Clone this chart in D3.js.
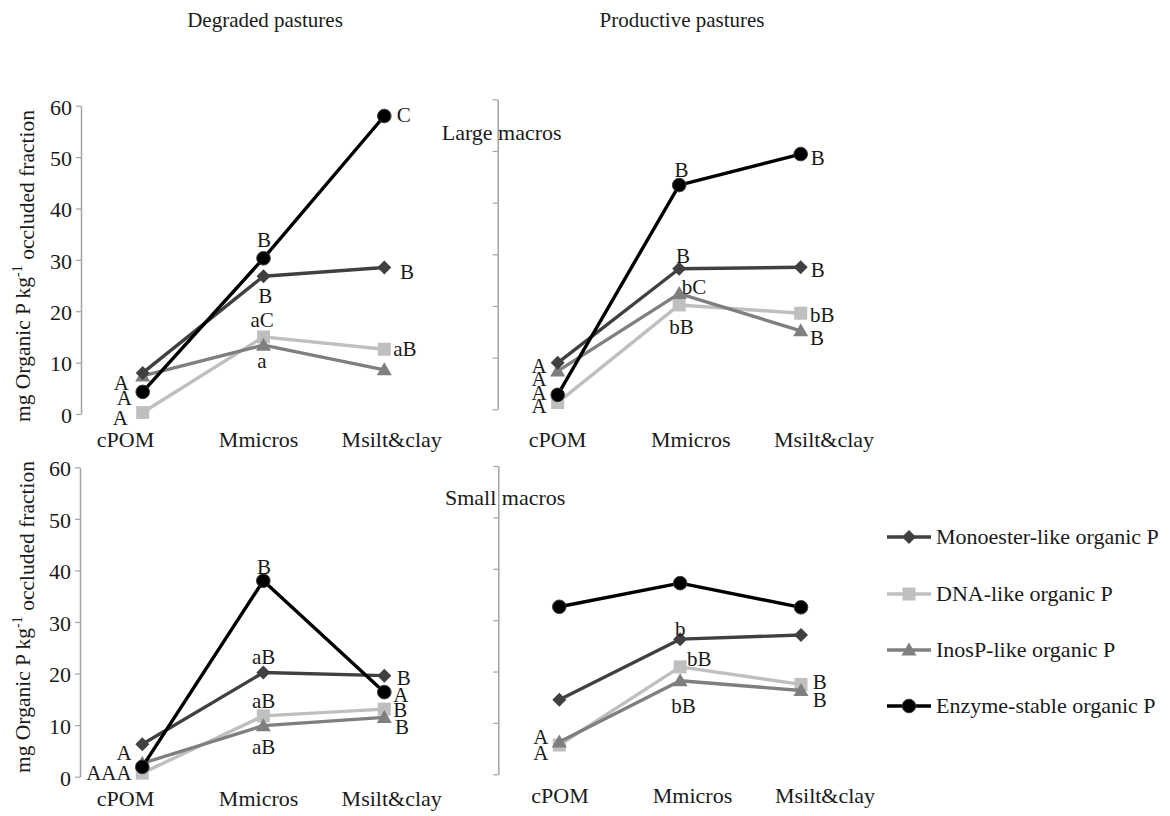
<!DOCTYPE html>
<html>
<head>
<meta charset="utf-8">
<script src="https://cdn.jsdelivr.net/npm/d3@7"></script>
<style>
  body { margin: 0; background: #fff; }
  svg text { font-family: "Liberation Serif", "Times New Roman", Times, serif; fill: #1a1a1a; }
</style>
</head>
<body>
<svg id="chart" width="1170" height="816"></svg>
<script>
// ---------- data ----------
const categories = ["cPOM", "Mmicros", "Msilt&clay"];
const seriesNames = ["Monoester-like organic P", "DNA-like organic P", "InosP-like organic P", "Enzyme-stable organic P"];
const yTicks = [0, 10, 20, 30, 40, 50, 60];
const pastureTitles = ["Degraded pastures", "Productive pastures"];
const sizeClasses = ["Large macros", "Small macros"];

// mg organic P per kg occluded fraction, by category
const degLargeMono = [8.0, 26.8, 28.5];
const degLargeDNA  = [0.3, 15.0, 12.6];
const degLargeInos = [7.4, 13.4, 8.6];
const degLargeEnz  = [4.3, 30.3, 58.0];

const prodLargeMono = [9.0, 27.2, 27.5];
const prodLargeDNA  = [1.3, 20.2, 18.6];
const prodLargeInos = [7.4, 22.4, 15.2];
const prodLargeEnz  = [2.8, 43.4, 49.4];

const degSmallMono = [6.3, 20.2, 19.6];
const degSmallDNA  = [0.7, 11.8, 13.1];
const degSmallInos = [2.6, 9.9, 11.5];
const degSmallEnz  = [1.9, 38.0, 16.4];

const prodSmallMono = [14.5, 26.3, 27.1];
const prodSmallDNA  = [5.7, 20.9, 17.5];
const prodSmallInos = [6.3, 18.2, 16.3];
const prodSmallEnz  = [32.6, 37.2, 32.5];

// significance letters: [series index, category index, letters]
const degLargeLetters = [[0,0,"A"],[3,0,"A"],[1,0,"A"],[3,1,"B"],[0,1,"B"],[1,1,"aC"],[2,1,"a"],[3,2,"C"],[0,2,"B"],[1,2,"aB"]];
const prodLargeLetters = [[0,0,"A"],[2,0,"A"],[3,0,"A"],[1,0,"A"],[3,1,"B"],[0,1,"B"],[2,1,"bC"],[1,1,"bB"],[3,2,"B"],[0,2,"B"],[1,2,"bB"],[2,2,"B"]];
const degSmallLetters = [[0,0,"A"],[1,0,"A"],[2,0,"A"],[3,0,"A"],[3,1,"B"],[0,1,"aB"],[1,1,"aB"],[2,1,"aB"],[0,2,"B"],[3,2,"A"],[1,2,"B"],[2,2,"B"]];
const prodSmallLetters = [[2,0,"A"],[1,0,"A"],[0,1,"b"],[1,1,"bB"],[2,1,"bB"],[1,2,"B"],[2,2,"B"]];

// ---------- letter placement relative to its point: [dx, dy, anchor] ----------
const degLargePlace = [[-13.7,16.8,"end"],[-10.7,13.4,"end"],[-14.7,12.8,"end"],[0.5,-11.3,"middle"],[1.7,26.4,"middle"],[-1.3,-9.9,"middle"],[-1.6,22.8,"middle"],[12.4,6,"start"],[15.7,11.1,"start"],[9,7,"start"]];
const prodLargePlace = [[-11,10.2,"end"],[-11,15.2,"end"],[-11,4.9,"end"],[-11,10.4,"end"],[2.4,-8.1,"middle"],[3.7,-6.1,"middle"],[14.9,0,"middle"],[2.4,29.3,"middle"],[10,10.7,"start"],[10,9.8,"start"],[9.3,8.8,"start"],[9.3,14.5,"start"]];
const degSmallPlace = [[-10.6,15.5,"end"],[-10.6,7.2,"end"],[-25.8,17,"end"],[-41,13.4,"end"],[0.6,-7,"middle"],[0.3,-8.8,"middle"],[0.3,-8.1,"middle"],[0.3,28.1,"middle"],[12.4,9.7,"start"],[9,9.9,"start"],[9,7.9,"start"],[10.7,16.3,"start"]];
const prodSmallPlace = [[-11,1.8,"end"],[-11,15.3,"end"],[0,-3.2,"middle"],[19,-0.9,"middle"],[3.3,32.2,"middle"],[11.7,4.9,"start"],[11.7,16.4,"start"]];

// ---------- series styling ----------
const seriesColors = ["#404040", "#bfbfbf", "#7f7f7f", "#000000"];
const markerPaths = [
  "M0,-7L7,0L0,7L-7,0Z",             // diamond
  "M-6.5,-6.5H6.5V6.5H-6.5Z",        // square
  "M0,-7.5L7.5,5.5H-7.5Z",           // triangle
  d3.symbol(d3.symbolCircle, Math.PI * 6.8 * 6.8)() // circle
];
const drawOrder = [1, 2, 0, 3];
const SERIF = "Liberation Serif, Times New Roman, serif";

const panels = [
  { values: [degLargeMono, degLargeDNA, degLargeInos, degLargeEnz], letters: degLargeLetters, place: degLargePlace,
    xr: [142.7, 384.3], yr: [414, 105.7], lr: [125.5, 391.7], lb: 447, ax: 81, tickLabels: true },
  { values: [prodLargeMono, prodLargeDNA, prodLargeInos, prodLargeEnz], letters: prodLargeLetters, place: prodLargePlace,
    xr: [557.7, 800.7], yr: [409.3, 99.3], lr: [557.5, 824], lb: 447, ax: 497.7, tickLabels: false },
  { values: [degSmallMono, degSmallDNA, degSmallInos, degSmallEnz], letters: degSmallLetters, place: degSmallPlace,
    xr: [142.3, 384.3], yr: [776.7, 467.3], lr: [125.5, 391.7], lb: 806, ax: 80, tickLabels: true },
  { values: [prodSmallMono, prodSmallDNA, prodSmallInos, prodSmallEnz], letters: prodSmallLetters, place: prodSmallPlace,
    xr: [559.3, 801], yr: [774.3, 466], lr: [560, 825], lb: 803, ax: 498.3, tickLabels: false }
];

const svg = d3.select("#chart");

panels.forEach(p => {
  const x = d3.scalePoint().domain(categories).range(p.xr);
  const y = d3.scaleLinear().domain([0, 60]).range(p.yr);
  const xl = d3.scalePoint().domain(categories).range(p.lr);
  const g = svg.append("g");

  // y axis
  const axis = d3.axisLeft(y).tickValues(yTicks).tickSize(5).tickSizeOuter(0).tickPadding(4);
  if (!p.tickLabels) axis.tickFormat("");
  const ag = g.append("g").attr("transform", `translate(${p.ax},0)`).call(axis)
    .attr("font-family", SERIF).attr("font-size", 22);
  ag.select(".domain").attr("stroke", "#a3a3a3").attr("stroke-width", 1.5);
  ag.selectAll(".tick line").attr("stroke", "#a3a3a3").attr("stroke-width", 1.2);
  ag.selectAll(".tick text").attr("fill", "#1a1a1a").attr("dy", "0.38em");

  // category labels
  g.selectAll(".cat").data(categories).join("text")
    .attr("x", d => xl(d)).attr("y", p.lb)
    .attr("text-anchor", "middle").attr("font-size", 22).text(d => d);

  // lines and markers
  const line = d3.line().x((d, i) => x(categories[i])).y(d => y(d));
  drawOrder.forEach(s => {
    g.append("path").datum(p.values[s]).attr("d", line)
      .attr("fill", "none").attr("stroke", seriesColors[s]).attr("stroke-width", 3.4)
      .attr("stroke-linejoin", "round");
    g.selectAll(null).data(p.values[s]).join("path")
      .attr("transform", (d, i) => `translate(${x(categories[i])},${y(d)})`)
      .attr("d", markerPaths[s]).attr("fill", seriesColors[s])
      .attr("stroke", s === 3 ? "#3a3a3a" : "none").attr("stroke-width", 1);
  });

  // significance letters
  g.selectAll(".sig").data(p.letters).join("text")
    .attr("x", (d, i) => x(categories[d[1]]) + p.place[i][0])
    .attr("y", (d, i) => y(p.values[d[0]][d[1]]) + p.place[i][1])
    .attr("text-anchor", (d, i) => p.place[i][2])
    .attr("font-size", 21).text(d => d[2]);
});

// column titles
svg.selectAll(".title").data(pastureTitles).join("text")
  .attr("x", (d, i) => [265, 682][i]).attr("y", 27)
  .attr("text-anchor", "middle").attr("font-size", 21).text(d => d);

// aggregate size class captions
svg.selectAll(".size").data(sizeClasses).join("text")
  .attr("x", (d, i) => [441.7, 445][i]).attr("y", (d, i) => [139.7, 505][i])
  .attr("font-size", 22).text(d => d);

// y axis titles
[266, 617].forEach(cy => {
  const t = svg.append("text")
    .attr("transform", `translate(30,${cy}) rotate(-90)`)
    .attr("text-anchor", "middle").attr("font-size", 21.5);
  t.append("tspan").text("mg Organic P kg");
  t.append("tspan").attr("dy", "-0.55em").attr("font-size", 14).text("-1");
  t.append("tspan").attr("dy", "0.55em").text(" occluded fraction");
});

// legend
const legendY = [537, 594, 650, 706];
const lg = svg.append("g");
seriesNames.forEach((name, s) => {
  const row = lg.append("g").attr("transform", `translate(0,${legendY[s]})`);
  row.append("line").attr("x1", 887).attr("x2", 931).attr("y1", 0).attr("y2", 0)
    .attr("stroke", seriesColors[s]).attr("stroke-width", 3.4);
  row.append("path").attr("transform", "translate(909,0)").attr("d", markerPaths[s])
    .attr("fill", seriesColors[s]).attr("stroke", s === 3 ? "#3a3a3a" : "none");
  row.append("text").attr("x", 936).attr("y", 7).attr("font-size", 22).text(name);
});
</script>
</body>
</html>
